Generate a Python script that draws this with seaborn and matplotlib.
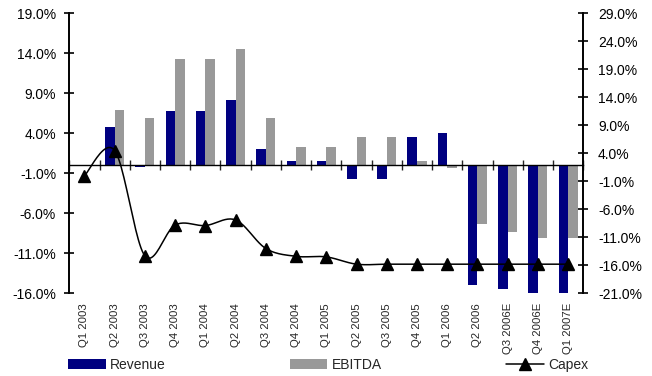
import numpy as np
import pandas as pd
import matplotlib
matplotlib.use("Agg")
import matplotlib.pyplot as plt
import seaborn as sns
from matplotlib.patches import Patch
from matplotlib.lines import Line2D
from matplotlib.ticker import FuncFormatter

quarters = ["Q1 2003", "Q2 2003", "Q3 2003", "Q4 2003", "Q1 2004", "Q2 2004",
            "Q3 2004", "Q4 2004", "Q1 2005", "Q2 2005", "Q3 2005", "Q4 2005",
            "Q1 2006", "Q2 2006", "Q3 2006E", "Q4 2006E", "Q1 2007E"]
revenue = [0.0, 4.8, -0.2, 6.8, 6.8, 8.2, 2.0, 0.6, 0.6, -1.7, -1.7, 3.6,
           4.0, -14.9, -15.4, -16.0, -16.0]
ebitda = [0.0, 6.9, 5.9, 13.25, 13.25, 14.5, 5.9, 2.3, 2.3, 3.5, 3.5, 0.6,
          -0.3, -7.3, -8.3, -9.1, -9.1]
capex = [0.0, 4.5, -14.3, -8.8, -8.9, -7.9, -13.0, -14.4, -14.5, -15.8, -15.8,
         -15.8, -15.8, -15.8, -15.8, -15.8, -15.8]
left_ticks = [-16, -11, -6, -1, 4, 9, 14, 19]
right_ticks = [-21, -16, -11, -6, -1, 4, 9, 14, 19, 24, 29]

NAVY = "#000080"
GREY = "#999999"

sns.set_style("white")
plt.rcParams["font.family"] = ["Liberation Sans", "DejaVu Sans"]

df = pd.DataFrame({
    "quarter": quarters * 2,
    "value": revenue + ebitda,
    "series": ["Revenue"] * len(quarters) + ["EBITDA"] * len(quarters),
})

fig = plt.figure(figsize=(6.52, 3.76), dpi=100)
ax = fig.add_axes([69.3 / 652, 1 - 293.3 / 376, 514 / 652, 280 / 376])

sns.barplot(data=df, x="quarter", y="value", hue="series", order=quarters,
            hue_order=["Revenue", "EBITDA"], palette=[NAVY, GREY],
            width=0.63, gap=0, saturation=1, linewidth=0, errorbar=None,
            legend=False, ax=ax)

ax.set_xlim(-0.5, len(quarters) - 0.5)
ax.set_ylim(left_ticks[0], left_ticks[-1])
ax.set_xlabel("")
ax.set_ylabel("")
pct = FuncFormatter(lambda v, _: f"{v:.1f}%")
ax.set_yticks(left_ticks)
ax.yaxis.set_major_formatter(pct)
ax.tick_params(axis="y", direction="inout", length=7, width=1.2,
               labelsize=10, pad=6, left=True, colors="black")

# category separators on the zero line
ax.spines["bottom"].set_position(("data", 0))
ax.set_xticks(np.arange(len(quarters) + 1) - 0.5)
ax.set_xticklabels([])
ax.tick_params(axis="x", direction="inout", length=7, width=1.0, bottom=True)
for s in ["top", "right"]:
    ax.spines[s].set_visible(False)
ax.spines["left"].set_linewidth(1.4)
ax.spines["bottom"].set_linewidth(1.0)
ax.spines["left"].set_color("black")
ax.spines["bottom"].set_color("black")

# category names along the bottom edge
sec = ax.secondary_xaxis("bottom")
sec.set_xticks(range(len(quarters)))
sec.set_xticklabels(quarters, rotation=90, fontsize=8.2)
sec.tick_params(length=0, pad=7)
sec.spines["bottom"].set_visible(False)

# capex on the secondary scale, smoothed with Bezier segments
ax2 = ax.twinx()
ax2.set_ylim(right_ticks[0], right_ticks[-1])
ax2.set_yticks(right_ticks)
ax2.yaxis.set_major_formatter(pct)
ax2.tick_params(axis="y", direction="inout", length=7, width=1.2,
                labelsize=10, pad=7, right=True, colors="black")
for s in ["top", "left", "bottom"]:
    ax2.spines[s].set_visible(False)
ax2.spines["right"].set_linewidth(1.4)
ax2.spines["right"].set_color("black")


def smooth(xs, ys, n=24):
    pts = np.column_stack([xs, ys]).astype(float)
    ext = np.vstack([pts[0], pts, pts[-1]])
    t = np.linspace(0, 1, n)[:, None]
    out = []
    for i in range(len(pts) - 1):
        p0, p1, p2, p3 = ext[i], ext[i + 1], ext[i + 2], ext[i + 3]
        c1 = p1 + (p2 - p0) / 6
        c2 = p2 - (p3 - p1) / 6
        seg = ((1 - t) ** 3 * p1 + 3 * (1 - t) ** 2 * t * c1
               + 3 * (1 - t) * t ** 2 * c2 + t ** 3 * p2)
        out.append(seg if i == 0 else seg[1:])
    return np.vstack(out)


xpos = np.arange(len(quarters))
curve = smooth(xpos, capex)
ax2.plot(curve[:, 0], curve[:, 1], color="black", lw=1.1)
ax2.plot(xpos, capex, linestyle="none", marker="^", ms=8.5, color="black")

handles = [
    Patch(facecolor=NAVY, edgecolor="none", label="Revenue"),
    Patch(facecolor=GREY, edgecolor="none", label="EBITDA"),
    Line2D([], [], color="black", lw=1.1, marker="^", ms=8.5, label="Capex"),
]
fig.legend(handles=handles, loc="lower left",
           bbox_to_anchor=(68 / 652, 0.011, 520 / 652, 0.05), mode="expand",
           ncol=3, frameon=False, fontsize=10, handlelength=2.7,
           handleheight=0.8, handletextpad=0.3, borderaxespad=0,
           borderpad=0)

fig.savefig("out.png", dpi=100)
